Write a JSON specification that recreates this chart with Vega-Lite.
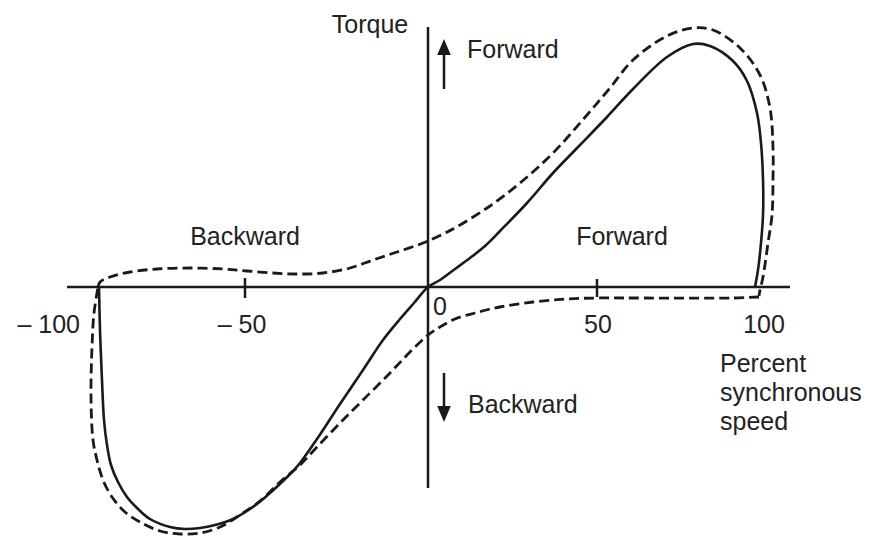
{
  "$schema": "https://vega.github.io/schema/vega-lite/v6.json",
  "width": 873,
  "height": 539,
  "autosize": {"type": "none"},
  "padding": 0,
  "background": "white",
  "config": {"view": {"stroke": null}},
  "datasets": {
    "solid": [
      {"i": 1, "x": -99.66, "t": 0},
      {"i": 2, "x": -99.32, "t": -17.2},
      {"i": 3, "x": -98.64, "t": -37.2},
      {"i": 4, "x": -97.96, "t": -53.2},
      {"i": 5, "x": -96.94, "t": -63.2},
      {"i": 6, "x": -95.58, "t": -71.2},
      {"i": 7, "x": -93.2, "t": -78.0},
      {"i": 8, "x": -90.14, "t": -84.0},
      {"i": 9, "x": -86.73, "t": -88.4},
      {"i": 10, "x": -82.31, "t": -92.8},
      {"i": 11, "x": -75.51, "t": -96.0},
      {"i": 12, "x": -70.41, "t": -96.8},
      {"i": 13, "x": -65.31, "t": -96.4},
      {"i": 14, "x": -60.2, "t": -95.2},
      {"i": 15, "x": -54.08, "t": -92.8},
      {"i": 16, "x": -48.63, "t": -88.8},
      {"i": 17, "x": -45.36, "t": -85.2},
      {"i": 18, "x": -43.17, "t": -82.4},
      {"i": 19, "x": -39.89, "t": -78.0},
      {"i": 20, "x": -36.89, "t": -73.6},
      {"i": 21, "x": -34.97, "t": -70.4},
      {"i": 22, "x": -30.33, "t": -60.8},
      {"i": 23, "x": -24.04, "t": -46.8},
      {"i": 24, "x": -17.76, "t": -33.2},
      {"i": 25, "x": -12.3, "t": -21.2},
      {"i": 26, "x": -7.65, "t": -12.8},
      {"i": 27, "x": -3.83, "t": -6.4},
      {"i": 28, "x": 0, "t": 0},
      {"i": 29, "x": 3.55, "t": 2.8},
      {"i": 30, "x": 7.99, "t": 7.2},
      {"i": 31, "x": 12.43, "t": 11.6},
      {"i": 32, "x": 16.86, "t": 16.4},
      {"i": 33, "x": 21.3, "t": 22.4},
      {"i": 34, "x": 29.29, "t": 33.6},
      {"i": 35, "x": 36.98, "t": 45.6},
      {"i": 36, "x": 44.97, "t": 56.8},
      {"i": 37, "x": 53.13, "t": 68.0},
      {"i": 38, "x": 61.25, "t": 79.2},
      {"i": 39, "x": 71.88, "t": 92.0},
      {"i": 40, "x": 80.0, "t": 97.2},
      {"i": 41, "x": 85.31, "t": 96.4},
      {"i": 42, "x": 92.5, "t": 90.4},
      {"i": 43, "x": 96.88, "t": 82.4},
      {"i": 44, "x": 100.0, "t": 69.6},
      {"i": 45, "x": 101.25, "t": 57.6},
      {"i": 46, "x": 101.88, "t": 42.8},
      {"i": 47, "x": 101.88, "t": 28.8},
      {"i": 48, "x": 101.25, "t": 17.6},
      {"i": 49, "x": 100.31, "t": 6.8},
      {"i": 50, "x": 99.38, "t": 0}
    ],
    "dashed": [
      {"s": "forward", "i": 1, "x": -100, "t": 0},
      {"s": "forward", "i": 2, "x": -99.32, "t": 2.0},
      {"s": "forward", "i": 3, "x": -95.92, "t": 4.0},
      {"s": "forward", "i": 4, "x": -89.12, "t": 6.0},
      {"s": "forward", "i": 5, "x": -79.93, "t": 7.2},
      {"s": "forward", "i": 6, "x": -68.71, "t": 7.6},
      {"s": "forward", "i": 7, "x": -57.48, "t": 7.2},
      {"s": "forward", "i": 8, "x": -49.45, "t": 6.4},
      {"s": "forward", "i": 9, "x": -42.35, "t": 5.6},
      {"s": "forward", "i": 10, "x": -35.79, "t": 5.2},
      {"s": "forward", "i": 11, "x": -28.69, "t": 5.6},
      {"s": "forward", "i": 12, "x": -21.31, "t": 7.6},
      {"s": "forward", "i": 13, "x": -15.03, "t": 10.8},
      {"s": "forward", "i": 14, "x": -8.47, "t": 14.0},
      {"s": "forward", "i": 15, "x": -1.37, "t": 17.6},
      {"s": "forward", "i": 16, "x": 4.44, "t": 21.2},
      {"s": "forward", "i": 17, "x": 7.4, "t": 23.2},
      {"s": "forward", "i": 18, "x": 17.46, "t": 31.6},
      {"s": "forward", "i": 19, "x": 27.22, "t": 41.6},
      {"s": "forward", "i": 20, "x": 36.98, "t": 53.6},
      {"s": "forward", "i": 21, "x": 47.04, "t": 68.8},
      {"s": "forward", "i": 22, "x": 54.06, "t": 79.6},
      {"s": "forward", "i": 23, "x": 61.25, "t": 90.8},
      {"s": "forward", "i": 24, "x": 71.88, "t": 100.4},
      {"s": "forward", "i": 25, "x": 80.0, "t": 103.6},
      {"s": "forward", "i": 26, "x": 86.25, "t": 102.8},
      {"s": "forward", "i": 27, "x": 94.69, "t": 95.6},
      {"s": "forward", "i": 28, "x": 100.94, "t": 84.8},
      {"s": "forward", "i": 29, "x": 104.06, "t": 71.6},
      {"s": "forward", "i": 30, "x": 105.0, "t": 55.6},
      {"s": "forward", "i": 31, "x": 105.0, "t": 42.8},
      {"s": "forward", "i": 32, "x": 104.69, "t": 28.8},
      {"s": "forward", "i": 33, "x": 103.44, "t": 17.6},
      {"s": "forward", "i": 34, "x": 101.88, "t": 4.0},
      {"s": "forward", "i": 35, "x": 100.94, "t": -1.2},
      {"s": "forward", "i": 36, "x": 100.63, "t": -3.6},
      {"s": "backward", "i": 1, "x": 100.63, "t": -4.0},
      {"s": "backward", "i": 2, "x": 92.5, "t": -4.4},
      {"s": "backward", "i": 3, "x": 61.25, "t": -4.4},
      {"s": "backward", "i": 4, "x": 50, "t": -4.4},
      {"s": "backward", "i": 5, "x": 41.12, "t": -4.8},
      {"s": "backward", "i": 6, "x": 31.07, "t": -6.0},
      {"s": "backward", "i": 7, "x": 21.3, "t": -8.0},
      {"s": "backward", "i": 8, "x": 13.91, "t": -10.4},
      {"s": "backward", "i": 9, "x": 7.99, "t": -12.8},
      {"s": "backward", "i": 10, "x": 3.55, "t": -16.0},
      {"s": "backward", "i": 11, "x": 0, "t": -19.2},
      {"s": "backward", "i": 12, "x": -4.92, "t": -26.0},
      {"s": "backward", "i": 13, "x": -10.38, "t": -34.4},
      {"s": "backward", "i": 14, "x": -17.76, "t": -45.2},
      {"s": "backward", "i": 15, "x": -24.04, "t": -54.4},
      {"s": "backward", "i": 16, "x": -30.33, "t": -64.0},
      {"s": "backward", "i": 17, "x": -34.97, "t": -71.2},
      {"s": "backward", "i": 18, "x": -40.44, "t": -78.0},
      {"s": "backward", "i": 19, "x": -45.9, "t": -85.6},
      {"s": "backward", "i": 20, "x": -51.7, "t": -91.2},
      {"s": "backward", "i": 21, "x": -58.5, "t": -96.0},
      {"s": "backward", "i": 22, "x": -65.31, "t": -98.4},
      {"s": "backward", "i": 23, "x": -72.11, "t": -98.8},
      {"s": "backward", "i": 24, "x": -78.91, "t": -97.6},
      {"s": "backward", "i": 25, "x": -85.71, "t": -94.0},
      {"s": "backward", "i": 26, "x": -90.82, "t": -90.0},
      {"s": "backward", "i": 27, "x": -95.24, "t": -84.0},
      {"s": "backward", "i": 28, "x": -98.3, "t": -77.2},
      {"s": "backward", "i": 29, "x": -100.34, "t": -69.2},
      {"s": "backward", "i": 30, "x": -101.7, "t": -61.2},
      {"s": "backward", "i": 31, "x": -102.38, "t": -44.0},
      {"s": "backward", "i": 32, "x": -102.04, "t": -24.0},
      {"s": "backward", "i": 33, "x": -101.36, "t": -10.4},
      {"s": "backward", "i": 34, "x": -100, "t": 0}
    ],
    "rules": [
      {"name": "speed axis", "x": -110.54, "x2": 110.31, "t": 0, "t2": 0},
      {"name": "torque axis", "x": 0, "x2": 0, "t": 104, "t2": -80.4},
      {"name": "tick -50", "x": -50, "x2": -50, "t": 3.6, "t2": -4.4},
      {"name": "tick 50", "x": 50, "x2": 50, "t": 3.2, "t2": -4.0},
      {"name": "arrow up", "x": 4.73, "x2": 4.73, "t": 79.2, "t2": 92.8},
      {"name": "arrow down", "x": 4.73, "x2": 4.73, "t": -34.4, "t2": -48.4}
    ],
    "heads": [
      {"dir": "up", "x": 4.73, "t": 96},
      {"dir": "down", "x": 4.73, "t": -50.8}
    ],
    "textsLeft": [
      {"label": "Forward", "x": 11.54, "t": 91.6},
      {"label": "0", "x": 1.48, "t": -11.2},
      {"label": "Backward", "x": 11.83, "t": -50.4},
      {"label": "Percent\nsynchronous\nspeed", "x": 88.44, "t": -34}
    ],
    "textsCenter": [
      {"label": "Torque", "x": -15.85, "t": 101.6},
      {"label": "Backward", "x": -50, "t": 16.8},
      {"label": "Forward", "x": 57.81, "t": 16.8},
      {"label": "– 50", "x": -51.0, "t": -18.4},
      {"label": "50", "x": 50.31, "t": -18.4},
      {"label": "100", "x": 102.19, "t": -18.4}
    ],
    "textsRight": [
      {"label": "– 100", "x": -106.12, "t": -18.4}
    ]
  },
  "encoding": {
    "x": {"field": "x", "type": "quantitative", "axis": null,
      "scale": {"domain": [-100, -50, 0, 50, 100], "range": [98, 245, 428, 597, 757], "nice": false, "zero": false}},
    "y": {"field": "t", "type": "quantitative", "axis": null,
      "scale": {"domain": [-100.8, 114.8], "nice": false, "zero": false}}
  },
  "layer": [
    {
      "data": {"name": "rules"},
      "mark": {"type": "rule", "color": "#1a1a1a", "strokeWidth": 2.5},
      "encoding": {
        "x2": {"field": "x2"},
        "y2": {"field": "t2"}
      }
    },
    {
      "data": {"name": "heads"},
      "mark": {"type": "point", "filled": true, "size": 256, "color": "#1a1a1a", "opacity": 1},
      "encoding": {
        "shape": {"field": "dir", "type": "nominal", "legend": null,
          "scale": {"domain": ["up", "down"], "range": ["M0,-1L0.85,1L-0.85,1Z", "M0,1L0.85,-1L-0.85,-1Z"]}}
      }
    },
    {
      "data": {"name": "dashed"},
      "mark": {"type": "line", "color": "#1a1a1a", "strokeWidth": 2.8, "strokeDash": [10, 5], "interpolate": "catmull-rom"},
      "encoding": {
        "detail": {"field": "s", "type": "nominal"},
        "order": {"field": "i", "type": "quantitative"}
      }
    },
    {
      "data": {"name": "solid"},
      "mark": {"type": "line", "color": "#1a1a1a", "strokeWidth": 2.6, "interpolate": "catmull-rom"},
      "encoding": {
        "order": {"field": "i", "type": "quantitative"}
      }
    },
    {
      "data": {"name": "textsLeft"},
      "mark": {"type": "text", "align": "left", "baseline": "alphabetic", "font": "Liberation Sans", "fontSize": 25, "color": "#222222", "lineBreak": "\n", "lineHeight": 29},
      "encoding": {"text": {"field": "label"}}
    },
    {
      "data": {"name": "textsCenter"},
      "mark": {"type": "text", "align": "center", "baseline": "alphabetic", "font": "Liberation Sans", "fontSize": 25, "color": "#222222"},
      "encoding": {"text": {"field": "label"}}
    },
    {
      "data": {"name": "textsRight"},
      "mark": {"type": "text", "align": "right", "baseline": "alphabetic", "font": "Liberation Sans", "fontSize": 25, "color": "#222222"},
      "encoding": {"text": {"field": "label"}}
    }
  ]
}
